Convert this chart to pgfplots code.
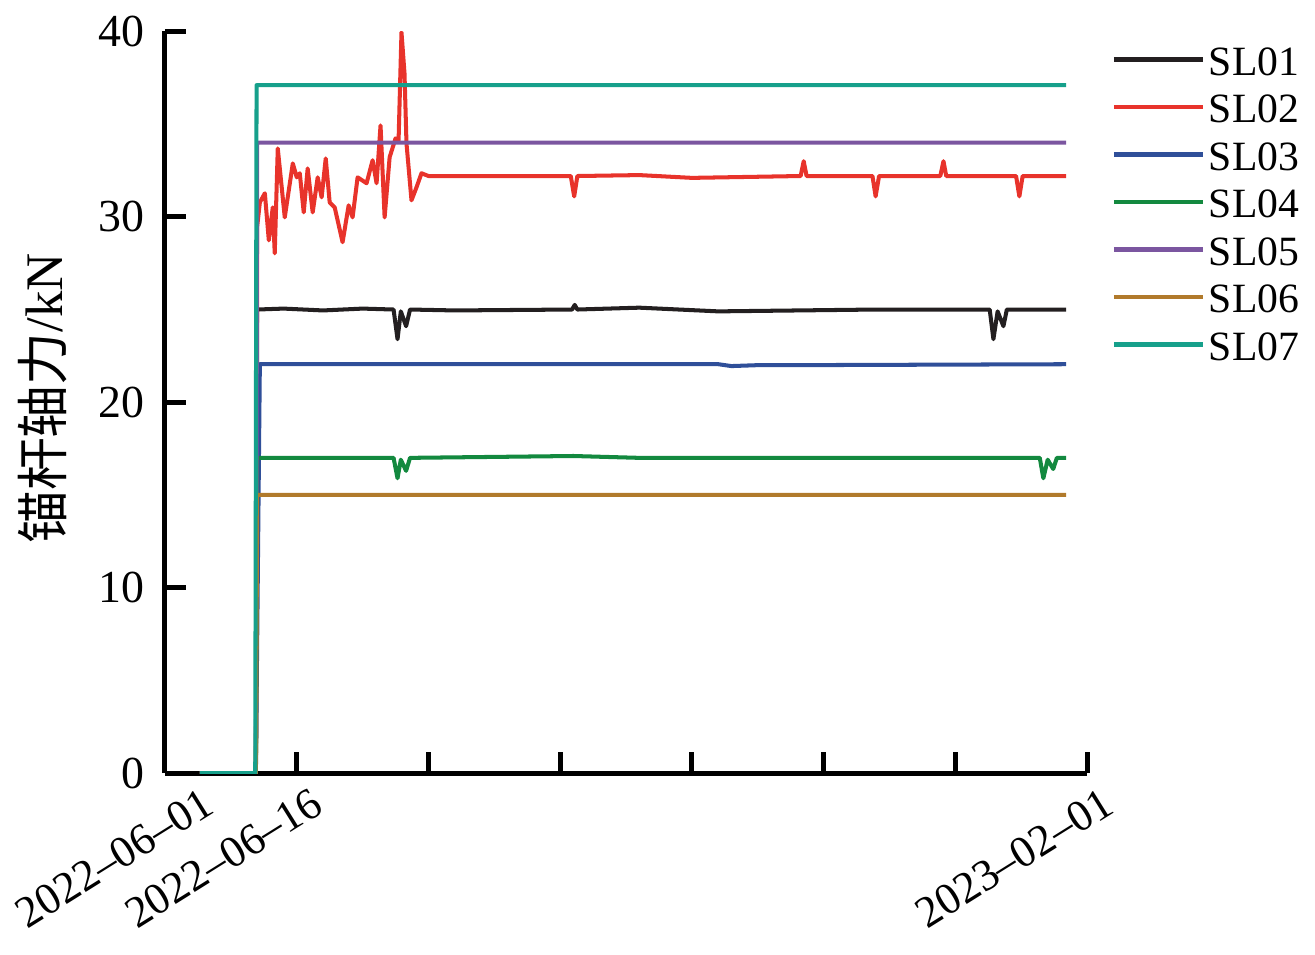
\documentclass[border=0pt]{standalone}
\usepackage{fontspec}
\setmainfont{Liberation Serif}
\newfontfamily\cjk{Noto Sans CJK SC}
\usepackage{pgfplots}
\pgfplotsset{compat=1.18}
\definecolor{cA}{HTML}{231F20}
\definecolor{cB}{HTML}{E8332B}
\definecolor{cC}{HTML}{2F4F99}
\definecolor{cD}{HTML}{13893F}
\definecolor{cE}{HTML}{7B56A0}
\definecolor{cF}{HTML}{B17A2B}
\definecolor{cG}{HTML}{16A08B}
\begin{document}
\begin{tikzpicture}
\begin{axis}[
  scale only axis, width=332pt, height=267pt,
  at={(0,0)}, anchor=south west,
  xmin=0, xmax=7, ymin=0, ymax=40,
  axis lines*=left,
  axis line style={line width=1.8pt, -},
  every tick/.style={line width=1.8pt, black},
  major tick length=7.5pt,
  tick align=inside,
  xtick={1,2,3,4,5,6,7},
  xticklabels={2022--06--16,,,,,,2023--02--01},
  extra x ticks={0.17},
  extra x tick labels={2022--06--01},
  extra x tick style={major tick length=0pt},
  xticklabel style={rotate=32, anchor=north east, font=\fontsize{16}{19}\selectfont, xshift=5pt, yshift=-3pt},
  ytick={0,10,20,30,40},
  yticklabel style={font=\fontsize{16.5}{19}\selectfont, xshift=-4pt},
  /pgf/number format/assume math mode=true,
  ylabel={{\cjk 锚杆轴力}/kN},
  ylabel style={at={(axis description cs:-0.133,0.505)}, anchor=center, font=\fontsize{19}{22}\selectfont},
  legend style={at={(axis description cs:1.026,0.99)}, anchor=north west, draw=none, fill=none,
    font=\fontsize{15}{18}\selectfont, row sep=2.6pt, inner sep=0pt,
    nodes={inner sep=1.5pt, text height=11.5pt, text depth=0pt}},
  legend cell align=left,
  legend image code/.code={\draw[#1, line width=1.5pt] (0pt,0pt) -- (32pt,0pt);},
  every axis plot/.append style={line width=1.45pt, line join=round},
]
\addplot[cA] coordinates {(0.265,0)(0.69,0)(0.70,25.0)(0.9,25.05)(1.2,24.95)(1.5,25.05)(1.735,25.0)(1.765,23.4)(1.79,24.9)(1.83,24.1)(1.86,25.0)(2.2,24.95)(3.09,25.0)(3.11,25.25)(3.13,25.0)(3.6,25.1)(4.2,24.9)(4.8,24.95)(5.4,25.0)(6.0,25.0)(6.26,25.0)(6.288,23.4)(6.32,24.9)(6.364,24.1)(6.39,25.0)(6.84,25.0)};
\addlegendentry{SL01}
\addplot[cB] coordinates {(0.265,0)(0.69,0)(0.70,29.5)(0.720,30.78)(0.758,31.27)(0.788,28.73)(0.818,30.51)(0.833,28.03)(0.856,33.69)(0.909,29.97)(0.970,32.88)(1.000,32.13)(1.023,32.35)(1.053,30.24)(1.083,32.61)(1.121,30.24)(1.159,32.13)(1.189,31.05)(1.220,33.15)(1.250,30.78)(1.288,30.51)(1.348,28.63)(1.394,30.62)(1.424,29.97)(1.462,32.13)(1.530,31.81)(1.576,33.05)(1.606,31.81)(1.636,34.93)(1.667,29.97)(1.705,33.21)(1.750,34.23)(1.773,34.12)(1.795,39.95)(1.818,37.74)(1.833,33.96)(1.871,30.89)(1.909,31.59)(1.947,32.35)(2.0,32.2)(3.08,32.2)(3.106,31.1)(3.13,32.2)(3.6,32.25)(4.0,32.1)(4.825,32.2)(4.848,33.0)(4.87,32.2)(5.37,32.2)(5.394,31.1)(5.42,32.2)(5.885,32.2)(5.909,33.0)(5.93,32.2)(6.46,32.2)(6.485,31.1)(6.51,32.2)(6.84,32.2)};
\addlegendentry{SL02}
\addplot[cC] coordinates {(0.265,0)(0.69,0)(0.72,22.05)(4.2,22.05)(4.3,21.95)(4.5,22.0)(4.8,22.0)(6.84,22.05)};
\addlegendentry{SL03}
\addplot[cD] coordinates {(0.265,0)(0.69,0)(0.70,17.0)(1.735,17.0)(1.765,15.9)(1.79,16.9)(1.83,16.3)(1.86,17.0)(3.1,17.1)(3.6,17.0)(6.64,17.0)(6.667,15.9)(6.70,16.9)(6.742,16.4)(6.77,17.0)(6.84,17.0)};
\addlegendentry{SL04}
\addplot[cE] coordinates {(0.265,0)(0.69,0)(0.70,34.0)(6.84,34.0)};
\addlegendentry{SL05}
\addplot[cF] coordinates {(0.265,0)(0.69,0)(0.70,15.0)(6.84,15.0)};
\addlegendentry{SL06}
\addplot[cG] coordinates {(0.265,0)(0.685,0)(0.695,37.1)(6.84,37.1)};
\addlegendentry{SL07}
\end{axis}
\pgfresetboundingbox
\path (-59.4pt,-65.2pt) rectangle (414pt,278.3pt);
\end{tikzpicture}
\end{document}
